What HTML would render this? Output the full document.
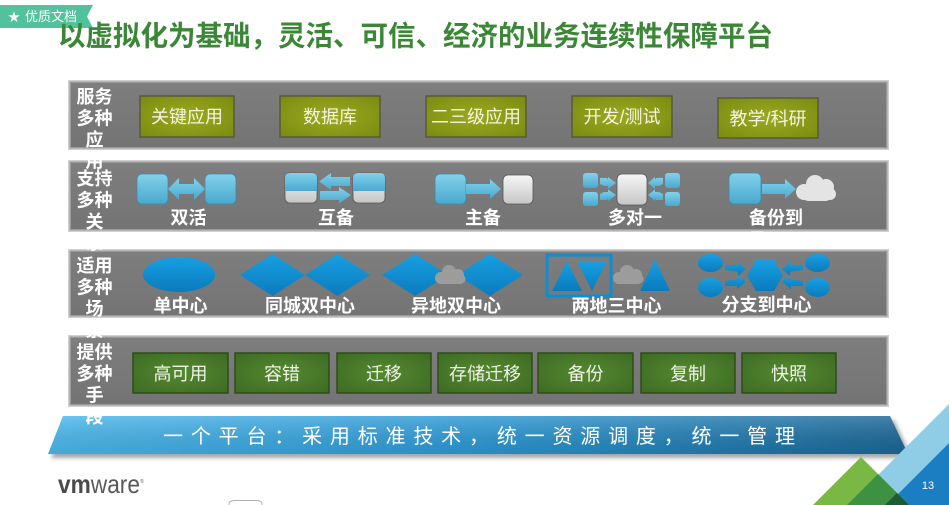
<!DOCTYPE html>
<html><head><meta charset="utf-8"><style>
html,body{margin:0;padding:0;background:#fff;width:949px;height:505px;overflow:hidden}
svg{display:block}
text{font-family:"Liberation Sans","Noto Sans CJK SC",sans-serif}
</style></head><body>
<svg width="949" height="505" viewBox="0 0 949 505" xmlns="http://www.w3.org/2000/svg">
<defs>
<linearGradient id="lb" x1="0" y1="0" x2="0" y2="1"><stop offset="0" stop-color="#82d2ec"/><stop offset="1" stop-color="#4aa8ce"/></linearGradient>
<linearGradient id="wh" x1="0" y1="0" x2="0" y2="1"><stop offset="0" stop-color="#f6f6f6"/><stop offset="1" stop-color="#c6c6c6"/></linearGradient>
<linearGradient id="db" x1="0" y1="0" x2="0" y2="1"><stop offset="0" stop-color="#18a0e2"/><stop offset="1" stop-color="#0a7bbd"/></linearGradient>
<radialGradient id="ol" cx="0.5" cy="0.5" r="0.7"><stop offset="0" stop-color="#9bab20"/><stop offset="1" stop-color="#7a8a10"/></radialGradient>
<radialGradient id="gr" cx="0.5" cy="0.5" r="0.7"><stop offset="0" stop-color="#548a30"/><stop offset="1" stop-color="#3d6b22"/></radialGradient>
<linearGradient id="bn" x1="0" y1="0" x2="1" y2="0"><stop offset="0" stop-color="#4cb8ec"/><stop offset="0.5" stop-color="#2b98d4"/><stop offset="1" stop-color="#1a6696"/></linearGradient>
<linearGradient id="bnv" x1="0" y1="0" x2="0" y2="1"><stop offset="0" stop-color="#fff" stop-opacity="0.18"/><stop offset="1" stop-color="#000" stop-opacity="0.08"/></linearGradient>
<linearGradient id="pn" x1="0" y1="0" x2="0" y2="1"><stop offset="0" stop-color="#7e7e7e"/><stop offset="1" stop-color="#747474"/></linearGradient>
<filter id="sh" x="-5%" y="-20%" width="110%" height="150%"><feGaussianBlur stdDeviation="2"/></filter>
</defs>

<!-- top tag -->
<polygon points="0,5 93,5 87,16.5 93,28 0,28" fill="#52c29c"/>
<text x="8" y="21" font-size="12" fill="#fff">★</text>
<text x="25" y="21" font-size="13" fill="#fff">优质文档</text>

<!-- title -->
<text x="58" y="36" font-size="28" font-weight="bold" fill="#3c8737" dominant-baseline="central" textLength="715" lengthAdjust="spacingAndGlyphs">以虚拟化为基础，灵活、可信、经济的业务连续性保障平台</text>

<!-- panels -->
<g>
<rect x="68" y="80" width="821" height="70" fill="#d0d0d0"/>
<rect x="69.5" y="81.5" width="818" height="67" fill="#9a9a9a"/>
<rect x="71" y="83" width="815" height="64" fill="url(#pn)"/>
<rect x="68" y="160" width="821" height="72" fill="#d0d0d0"/>
<rect x="69.5" y="161.5" width="818" height="69" fill="#9a9a9a"/>
<rect x="71" y="163" width="815" height="66" fill="url(#pn)"/>
<rect x="68" y="249" width="821" height="69" fill="#d0d0d0"/>
<rect x="69.5" y="250.5" width="818" height="66" fill="#9a9a9a"/>
<rect x="71" y="252" width="815" height="63" fill="url(#pn)"/>
<rect x="68" y="335" width="821" height="72" fill="#d0d0d0"/>
<rect x="69.5" y="336.5" width="818" height="69" fill="#9a9a9a"/>
<rect x="71" y="338" width="815" height="66" fill="url(#pn)"/>
</g>

<!-- row1 olive boxes -->
<g stroke="#5a5a3a" stroke-width="1.5" fill="url(#ol)">
<rect x="140" y="96" width="94" height="41"/>
<rect x="280" y="96" width="100" height="41"/>
<rect x="426" y="96" width="100" height="41"/>
<rect x="572" y="96" width="100" height="41"/>
<rect x="718" y="98" width="100" height="40"/>
</g>
<g font-size="18" fill="#f4f4e4" text-anchor="middle" dominant-baseline="central">
<text x="187" y="117">关键应用</text>
<text x="330" y="117">数据库</text>
<text x="476" y="117">二三级应用</text>
<text x="622" y="117">开发/测试</text>
<text x="768" y="119">教学/科研</text>
</g>

<!-- row2 icons -->
<g>
<!-- 双活 -->
<rect x="137" y="174" width="31" height="30" rx="5" fill="url(#lb)" stroke="#3d8aa8" stroke-width="0.8"/>
<rect x="205" y="174" width="31" height="30" rx="5" fill="url(#lb)" stroke="#3d8aa8" stroke-width="0.8"/>
<path d="M168,189 L179,178 L179,184 L194,184 L194,178 L205,189 L194,200 L194,194 L179,194 L179,200 Z" fill="url(#lb)"/>
<!-- 互备 -->
<rect x="285" y="173" width="32" height="30" rx="5" fill="url(#wh)" stroke="#555" stroke-width="0.8"/>
<path d="M285,191 L285,178 Q285,173 290,173 L312,173 Q317,173 317,178 L317,191 Z" fill="url(#lb)"/>
<rect x="353" y="173" width="32" height="30" rx="5" fill="url(#wh)" stroke="#555" stroke-width="0.8"/>
<path d="M353,191 L353,178 Q353,173 358,173 L380,173 Q385,173 385,178 L385,191 Z" fill="url(#lb)"/>
<path d="M319,181.5 L331,173 L331,177 L350,177 L350,186 L331,186 L331,190 Z" fill="url(#lb)"/>
<path d="M351,195 L339,187 L339,191 L320,191 L320,200 L339,200 L339,203.5 Z" fill="url(#lb)"/>
<!-- 主备 -->
<rect x="435" y="174" width="31" height="30" rx="5" fill="url(#lb)" stroke="#3d8aa8" stroke-width="0.8"/>
<path d="M466,184 L490,184 L490,179 L501,189 L490,199 L490,194 L466,194 Z" fill="url(#lb)"/>
<rect x="503" y="175" width="30" height="29" rx="5" fill="url(#wh)" stroke="#555" stroke-width="0.8"/>
<!-- 多对一 -->
<rect x="583" y="173" width="15" height="15" rx="3" fill="url(#lb)"/>
<rect x="583" y="192" width="15" height="14" rx="3" fill="url(#lb)"/>
<rect x="617" y="174" width="30" height="31" rx="5" fill="url(#wh)" stroke="#555" stroke-width="0.8"/>
<rect x="665" y="173" width="15" height="15" rx="3" fill="url(#lb)"/>
<rect x="665" y="192" width="15" height="14" rx="3" fill="url(#lb)"/>
<path d="M600,178 L607,178 L608,180 L608,177 L616,183 L608,189 L608,186 L604,186 L600,184 Z" fill="url(#lb)"/>
<path d="M600,200 L607,200 L608,198 L608,201 L616,195 L608,189.5 L608,192 L604,192 L600,194 Z" fill="url(#lb)"/>
<path d="M663,178 L656,178 L655,180 L655,177 L648,183 L655,189 L655,186 L659,186 L663,184 Z" fill="url(#lb)"/>
<path d="M663,200 L656,200 L655,198 L655,201 L648,195 L655,189.5 L655,192 L659,192 L663,194 Z" fill="url(#lb)"/>
<!-- 备份到云 -->
<rect x="729" y="173" width="32" height="31" rx="5" fill="url(#lb)" stroke="#3d8aa8" stroke-width="0.8"/>
<path d="M762,184 L785,184 L785,179 L796,189 L785,199 L785,194 L762,194 Z" fill="url(#lb)"/>
<g fill="#e4e4e4">
<circle cx="804" cy="192" r="8"/><circle cx="815" cy="184" r="9"/><circle cx="826" cy="187" r="8"/><circle cx="830" cy="194" r="6"/>
<rect x="803" y="190" width="28" height="11" rx="5"/>
</g>
</g>
<g font-size="18" font-weight="bold" fill="#fff" text-anchor="middle" dominant-baseline="central">
<text x="188.5" y="218">双活</text>
<text x="336" y="218">互备</text>
<text x="483" y="218">主备</text>
<text x="635" y="218">多对一</text>
<text x="776" y="218">备份到</text>
<text x="757" y="240">云</text>
</g>

<!-- row3 icons -->
<g fill="url(#db)">
<ellipse cx="179" cy="274.5" rx="36" ry="17.5"/>
<polygon points="240,275 272.5,254 305,275 272.5,296"/>
<polygon points="305,275 337.5,254 370,275 337.5,296"/>
<polygon points="382,275 415,254 448,275 415,296"/>
<polygon points="457,275 490,254 523,275 490,296"/>
<rect x="547" y="255" width="64" height="41" fill="none" stroke="#0a8fd4" stroke-width="3"/>
<polygon points="552,291 567,261 582,291"/>
<polygon points="577,261 607,261 592,291"/>
<polygon points="640,291 655,259 670,291"/>
<ellipse cx="710.5" cy="263" rx="12.5" ry="9"/>
<ellipse cx="710.5" cy="287.5" rx="12.5" ry="9.5"/>
<ellipse cx="817.5" cy="263" rx="12.5" ry="9"/>
<ellipse cx="817.5" cy="287.5" rx="12.5" ry="9.5"/>
<polygon points="747,275.5 756,260 774,260 783,275.5 774,291 756,291"/>
<path d="M725,265 L735,265 L737,266 L737,262 L746,269 L738,276 L738,272 L733,271 L725,270 Z"/>
<path d="M725,286 L735,286 L737,285 L737,289 L746,282 L738,275 L738,279 L733,280 L725,281 Z"/>
<path d="M803,265 L793,265 L791,266 L791,262 L782,269 L790,276 L790,272 L795,271 L803,270 Z"/>
<path d="M803,286 L793,286 L791,285 L791,289 L782,282 L790,275 L790,279 L795,280 L803,281 Z"/>
</g>
<g fill="#9c9c9c">
<circle cx="441" cy="278" r="6"/><circle cx="449" cy="272" r="7"/><circle cx="458" cy="275" r="6"/><circle cx="461" cy="279" r="4.5"/>
<rect x="437" y="276" width="27" height="8" rx="4"/>
<circle cx="619" cy="278" r="6"/><circle cx="627" cy="272" r="7"/><circle cx="636" cy="275" r="6"/><circle cx="639" cy="279" r="4.5"/>
<rect x="615" y="276" width="27" height="8" rx="4"/>
</g>
<g font-size="18" font-weight="bold" fill="#fff" text-anchor="middle" dominant-baseline="central">
<text x="180.5" y="306">单中心</text>
<text x="310" y="306">同城双中心</text>
<text x="456" y="306">异地双中心</text>
<text x="616.5" y="306">两地三中心</text>
<text x="766.5" y="305">分支到中心</text>
</g>

<!-- row4 green boxes -->
<g stroke="#2e4d1a" stroke-width="1.5" fill="url(#gr)">
<rect x="133" y="353" width="95" height="40"/>
<rect x="235" y="353" width="94" height="40"/>
<rect x="337" y="353" width="94" height="40"/>
<rect x="438" y="353" width="94" height="40"/>
<rect x="538" y="353" width="95" height="40"/>
<rect x="641" y="353" width="94" height="40"/>
<rect x="742" y="353" width="94" height="40"/>
</g>
<g font-size="18" fill="#f2f2ea" text-anchor="middle" dominant-baseline="central">
<text x="180.5" y="374">高可用</text>
<text x="282" y="374">容错</text>
<text x="384" y="374">迁移</text>
<text x="485" y="374">存储迁移</text>
<text x="585.5" y="374">备份</text>
<text x="688" y="374">复制</text>
<text x="789" y="374">快照</text>
</g>

<!-- banner -->
<polygon points="66,420 894,420 912,458 51,458" fill="#000" opacity="0.35" filter="url(#sh)"/>
<polygon points="63,416 890,416 908,454 48,454" fill="url(#bn)"/>
<polygon points="63,416 890,416 908,454 48,454" fill="url(#bnv)"/>
<text x="163" y="437" font-size="20" fill="#fff" dominant-baseline="central" textLength="632" lengthAdjust="spacing">一个平台：采用标准技术，统一资源调度，统一管理</text>

<!-- panel side labels (overflowing) -->
<g font-size="18" font-weight="bold" fill="#fff" text-anchor="middle" dominant-baseline="central">
<text x="94.5" y="97">服务</text>
<text x="94.5" y="118.5">多种</text>
<text x="94.5" y="140">应</text>
<text x="94.5" y="161.5">用</text>
<text x="94.5" y="179">支持</text>
<text x="94.5" y="200.5">多种</text>
<text x="94.5" y="222">关</text>
<text x="94.5" y="243.5">系</text>
<text x="94.5" y="266">适用</text>
<text x="94.5" y="287.5">多种</text>
<text x="94.5" y="309">场</text>
<text x="94.5" y="330.5">景</text>
<text x="94.5" y="352.5">提供</text>
<text x="94.5" y="374">多种</text>
<text x="94.5" y="395.5">手</text>
<text x="94.5" y="417">段</text>
</g>

<!-- vmware logo -->
<text x="58" y="493" font-size="26" fill="#5a5a5a" textLength="82" lengthAdjust="spacingAndGlyphs"><tspan font-weight="bold" fill="#4a4a4a">vm</tspan>ware</text>
<text x="140" y="483" font-size="5" fill="#666">®</text>

<!-- small tab at bottom -->
<path d="M229,506 L229,504 Q229,500.5 235,500.5 L256,500.5 Q262,500.5 262,504 L262,506" fill="#fff" stroke="#b0b0b0" stroke-width="1"/>

<!-- corner decoration -->
<polygon points="949,404 949,443 887,505 848,505" fill="#8fcce6"/>
<polygon points="949,443 949,505 887,505" fill="#1b7dc2"/>
<polygon points="861,457 813,505 909,505" fill="#79b843"/>
<polygon points="878,474 909,505 847,505" fill="#3e9143"/>
<polygon points="897,493 909,505 885,505" fill="#1e5d33"/>
<text x="928" y="486" font-size="11" fill="#fff" text-anchor="middle" dominant-baseline="central">13</text>
</svg>
</body></html>
